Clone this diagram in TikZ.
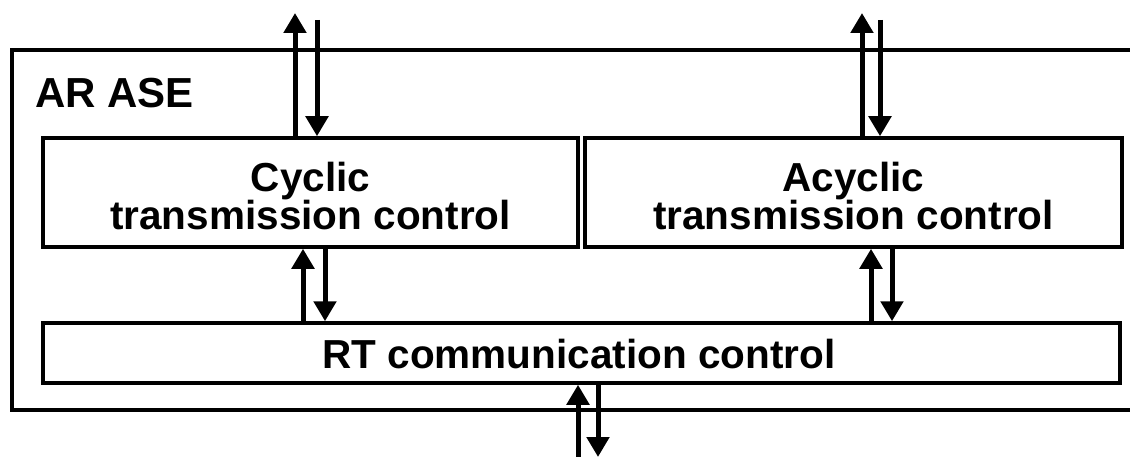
\documentclass[tikz,border=0pt]{standalone}
\usepackage{fontspec}
\setmainfont{Liberation Sans}
\usetikzlibrary{arrows.meta}
\begin{document}
\begin{tikzpicture}[x=1pt,y=-1pt,
  box/.style={draw=black,line width=3.5pt,inner sep=0pt,align=center,
    font=\bfseries\fontsize{40.5}{37}\selectfont},
  arr/.style={line width=5pt,-{Triangle[width=22pt,length=20pt]}},
  frame/.style={line width=4pt}]
\useasboundingbox (0,0) rectangle (1130,457);
\fill[white] (0,0) rectangle (1130,457);
% outer AR ASE frame (open on the right)
\coordinate (ftr) at (1132,50);
\coordinate (ftl) at (12,50);
\coordinate (fbl) at (12,410);
\coordinate (fbr) at (1132,410);
\draw[frame] (ftr) -- (ftl) -- (fbl) -- (fbr);
\node[anchor=base west,inner sep=0pt,font=\bfseries\fontsize{42}{42}\selectfont] (ase) at (35,108) {AR ASE};
% boxes
\node[box,minimum width=535pt,minimum height=109pt] (cyc) at (310.5,192.5) {};
\node[box,minimum width=537pt,minimum height=109pt] (acy) at (853.5,192.5) {};
\node[box,minimum width=1077pt,minimum height=60pt] (rt) at (581.5,353) {};
\node[box,draw=none] (cyct) at (310.5,196) {Cyclic\\transmission control};
\node[box,draw=none] (acyt) at (853.5,196) {Acyclic\\transmission control};
\node[box,draw=none] (rtt) at (579,354) {RT communication control};
% free ends
\coordinate (t1u) at (295,13);
\coordinate (t1d) at (317,20);
\coordinate (t2u) at (862,13);
\coordinate (t2d) at (880,20);
\coordinate (m1u) at (303,0);
\coordinate (m1d) at (325,0);
\coordinate (m2u) at (871,0);
\coordinate (m2d) at (892,0);
\coordinate (bu) at (578,457);
\coordinate (bd) at (598,457);
% connectors
\draw[arr] (cyc.north -| t1u) -- (t1u);
\draw[arr] (t1d) -- (cyc.north -| t1d);
\draw[arr] (acy.north -| t2u) -- (t2u);
\draw[arr] (t2d) -- (acy.north -| t2d);
\draw[arr] (rt.north -| m1u) -- (cyc.south -| m1u);
\draw[arr] (cyc.south -| m1d) -- (rt.north -| m1d);
\draw[arr] (rt.north -| m2u) -- (acy.south -| m2u);
\draw[arr] (acy.south -| m2d) -- (rt.north -| m2d);
\draw[arr] (bu) -- (rt.south -| bu);
\draw[arr] (rt.south -| bd) -- (bd);
\end{tikzpicture}
\end{document}
